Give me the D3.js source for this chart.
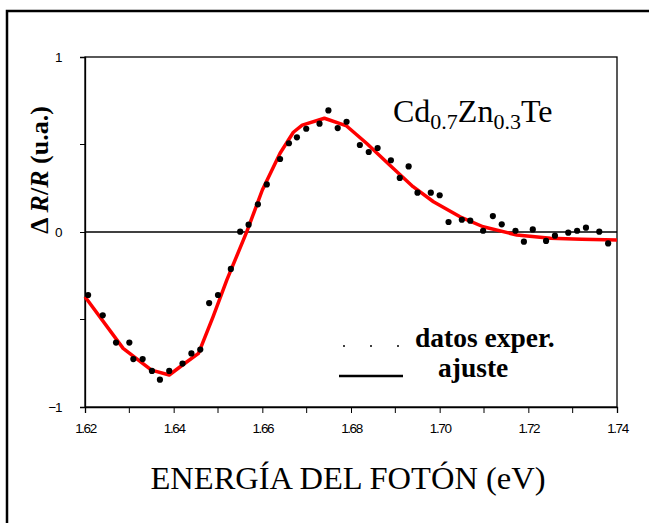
<!DOCTYPE html>
<html lang="en">
<head>
<meta charset="utf-8">
<style>
    body { margin: 0; background: #fff; }
    .tick text { font-family: "Liberation Sans", Arial, sans-serif; font-size: 13.5px; letter-spacing: -1.4px; fill: #000; }
    .serif { font-family: "Liberation Serif", "Times New Roman", serif; fill: #000; }
</style>
</head>
<body>
<svg id="chart" width="649" height="523"></svg>
<script src="https://cdn.jsdelivr.net/npm/d3@7/dist/d3.min.js"></script>
<script>

    // experimental points (photon energy in eV, dR/R in arbitrary units)
    var expEnergy = [1.6207, 1.624, 1.627, 1.630, 1.6309, 1.633, 1.6351, 1.6369, 1.639, 1.642,
        1.644, 1.646, 1.648, 1.650, 1.6529, 1.655, 1.6569, 1.659, 1.661, 1.664,
        1.666, 1.6678, 1.6699, 1.6729, 1.6749, 1.677, 1.679, 1.682, 1.684, 1.686,
        1.689, 1.691, 1.693, 1.695, 1.698, 1.700, 1.702, 1.705, 1.7069, 1.7098,
        1.712, 1.714, 1.7171, 1.719, 1.721, 1.724, 1.726, 1.729, 1.731, 1.733,
        1.736, 1.738];
    var expValue = [-0.36, -0.476, -0.632, -0.632, -0.726, -0.726, -0.794, -0.844, -0.794, -0.752,
        -0.694, -0.672, -0.406, -0.36, -0.211, 0.002, 0.042, 0.158, 0.272, 0.417,
        0.507, 0.541, 0.59, 0.619, 0.695, 0.594, 0.630, 0.497, 0.457, 0.48,
        0.41, 0.309, 0.375, 0.225, 0.225, 0.21, 0.057, 0.070, 0.065, 0.007,
        0.091, 0.044, 0.007, -0.055, 0.015, -0.051, -0.021, -0.004, 0.007, 0.025,
        0.002, -0.065];

    // fitted curve
    var fitEnergy = [1.620, 1.6286, 1.635, 1.639, 1.642, 1.6456, 1.6489, 1.652, 1.6565, 1.660,
        1.664, 1.667, 1.669, 1.674, 1.679, 1.6835, 1.6895, 1.694, 1.6986, 1.7046,
        1.7098, 1.7174, 1.725, 1.732, 1.740];
    var fitValue = [-0.37, -0.665, -0.789, -0.817, -0.76, -0.694, -0.484, -0.274, 0.002, 0.24,
        0.45, 0.57, 0.611, 0.65, 0.606, 0.507, 0.364, 0.259, 0.173, 0.087,
        0.030, -0.017, -0.036, -0.042, -0.046];

    var xMajor = [1.62, 1.64, 1.66, 1.68, 1.70, 1.72, 1.74];
    var xMinor = [1.63, 1.65, 1.67, 1.69, 1.71, 1.73];
    var yMajor = [-1, 0, 1];
    var yMinor = [-0.5, 0.5];

    var svg = d3.select("#chart");

    // outer frame (runs off the page on the right and bottom)
    svg.append("rect")
        .attr("x", 7).attr("y", 11)
        .attr("width", 700).attr("height", 560)
        .attr("fill", "none").attr("stroke", "#000").attr("stroke-width", 2.5);

    var x = d3.scaleLinear().domain([1.62, 1.74]).range([85, 617]);
    var y = d3.scaleLinear().domain([-1, 1]).range([407, 57]);

    // plot box
    svg.append("rect")
        .attr("x", x(1.62)).attr("y", y(1))
        .attr("width", x(1.74) - x(1.62)).attr("height", y(-1) - y(1))
        .attr("fill", "none").attr("stroke", "#000").attr("stroke-width", 1.3);

    // zero line
    svg.append("line")
        .attr("x1", x(1.62)).attr("x2", x(1.74))
        .attr("y1", y(0)).attr("y2", y(0))
        .attr("stroke", "#000").attr("stroke-width", 1.3);

    // x axis
    var gx = svg.append("g").attr("transform", "translate(0," + y(-1) + ")");
    gx.call(d3.axisBottom(x).tickValues(xMajor).tickSize(6).tickPadding(10)
        .tickFormat(d3.format(".2f")));
    gx.append("g").selectAll("line").data(xMinor).enter().append("line")
        .attr("x1", function (d) { return x(d); }).attr("x2", function (d) { return x(d); })
        .attr("y1", 0).attr("y2", 6).attr("stroke", "#000");
    gx.select(".domain").attr("stroke-width", 1.3);

    // y axis
    var gy = svg.append("g").attr("transform", "translate(" + x(1.62) + ",0)");
    gy.call(d3.axisLeft(y).tickValues(yMajor).tickSize(5).tickPadding(19)
        .tickFormat(d3.format("d")));
    gy.append("g").selectAll("line").data(yMinor).enter().append("line")
        .attr("x1", 0).attr("x2", -5)
        .attr("y1", function (d) { return y(d); }).attr("y2", function (d) { return y(d); })
        .attr("stroke", "#000");
    gy.select(".domain").attr("stroke-width", 1.3);

    // fitted line
    var line = d3.line()
        .x(function (d) { return x(d[0]); })
        .y(function (d) { return y(d[1]); });
    svg.append("path")
        .datum(d3.zip(fitEnergy, fitValue))
        .attr("d", line)
        .attr("fill", "none").attr("stroke", "#ff0000").attr("stroke-width", 3.5)
        .attr("stroke-linejoin", "round");

    // data points
    svg.append("g").selectAll("circle")
        .data(d3.zip(expEnergy, expValue))
        .enter().append("circle")
        .attr("cx", function (d) { return x(d[0]); })
        .attr("cy", function (d) { return y(d[1]); })
        .attr("r", 3.1).attr("fill", "#000");

    // sample label
    var lab = svg.append("text").attr("class", "serif")
        .attr("x", 393).attr("y", 122).attr("font-size", 32);
    lab.append("tspan").text("Cd");
    lab.append("tspan").attr("font-size", 22).attr("dy", 7).text("0.7");
    lab.append("tspan").attr("dy", -7).text("Zn");
    lab.append("tspan").attr("font-size", 22).attr("dy", 7).text("0.3");
    lab.append("tspan").attr("dy", -7).text("Te");

    // legend
    var legDots = [344, 371, 398];
    svg.append("g").selectAll("circle").data(legDots).enter().append("circle")
        .attr("cx", function (d) { return d; }).attr("cy", 346).attr("r", 1).attr("fill", "#000");
    svg.append("text").attr("class", "serif").attr("font-weight", "bold").attr("font-size", 27.5)
        .attr("x", 415).attr("y", 347).text("datos exper.");
    svg.append("line").attr("x1", 339).attr("x2", 403).attr("y1", 376).attr("y2", 376)
        .attr("stroke", "#000").attr("stroke-width", 2.5);
    svg.append("text").attr("class", "serif").attr("font-weight", "bold").attr("font-size", 27.5)
        .attr("x", 438).attr("y", 377).text("ajuste");

    // axis titles
    svg.append("text").attr("class", "serif").attr("font-size", 32.5)
        .attr("text-anchor", "middle")
        .attr("x", 348).attr("y", 489).text("ENERGÍA DEL FOTÓN (eV)");

    var yt = svg.append("text").attr("class", "serif").attr("font-weight", "bold").attr("font-size", 26)
        .attr("text-anchor", "middle")
        .attr("transform", "translate(48,170) rotate(-90)");
    yt.append("tspan").text("Δ ");
    yt.append("tspan").attr("font-style", "italic").text("R");
    yt.append("tspan").text("/");
    yt.append("tspan").attr("font-style", "italic").text("R");
    yt.append("tspan").text(" (u.a.)");

</script>
</body>
</html>
